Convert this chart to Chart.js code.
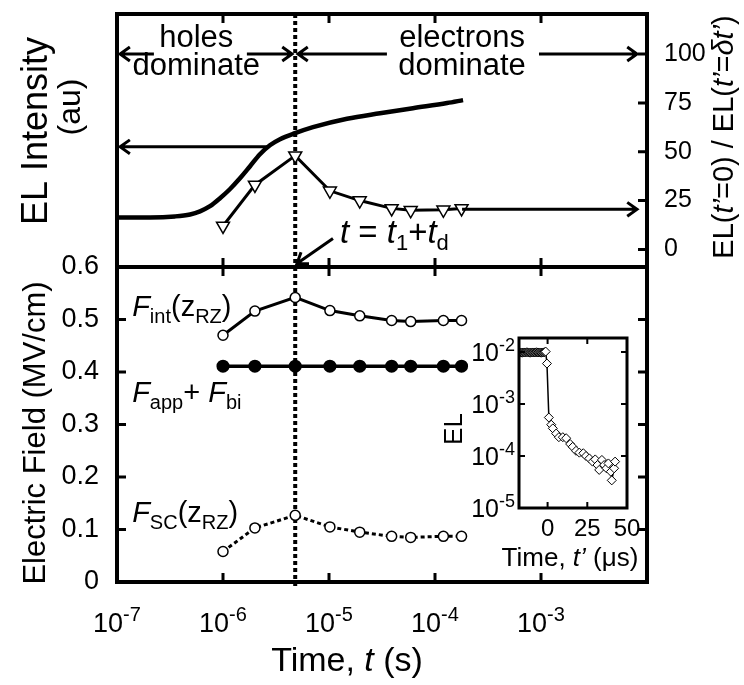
<!DOCTYPE html>
<html>
<head>
<meta charset="utf-8">
<script src="https://cdn.jsdelivr.net/npm/chart.js@4.4.1/dist/chart.umd.min.js"></script>
<style>
  html, body { margin: 0; padding: 0; background: #fff; }
  #wrap { position: relative; width: 744px; height: 685px; }
  #wrap canvas { position: absolute; left: 0; top: 0; }
  #wrap #inset { left: 440px; top: 330px; }
</style>
</head>
<body>
<div id="wrap">
  <canvas id="top" width="744" height="685"></canvas>
  <canvas id="bottom" width="744" height="685"></canvas>
  <canvas id="inset" width="208" height="245"></canvas>
</div>
<script>
// sampling times (s) of the triangle / field series
const times = [1e-6, 2e-6, 4.8e-6, 1.02e-5, 1.95e-5, 3.9e-5, 5.9e-5, 1.2e-4, 1.78e-4];
const elRatio = [12, 33, 48, 30, 25, 21, 20, 20.3, 21];
const fInt = [0.470, 0.516, 0.542, 0.517, 0.507, 0.498, 0.496, 0.498, 0.498];
const fAppBi = [0.411, 0.411, 0.411, 0.411, 0.411, 0.411, 0.411, 0.411, 0.411];
const fSc = [0.058, 0.103, 0.127, 0.105, 0.095, 0.087, 0.085, 0.087, 0.087];

// transient EL trace (au)
const elTimes = [1e-7, 2.05e-7, 3.52e-7, 4.89e-7, 6.07e-7, 7.54e-7, 9.37e-7, 1.16e-6, 1.445e-6,
  1.8e-6, 2.23e-6, 2.77e-6, 3.45e-6, 4.78e-6, 7.06e-6, 1.48e-5, 3.03e-5, 6.19e-5, 1.3e-4, 1.84e-4];
const elCurve = [16.4, 16.4, 16.9, 17.9, 19.5, 22.1, 26.2, 30.8, 36.4,
  42.6, 48.7, 53.3, 56.4, 59.5, 62.6, 66.9, 69.7, 72.3, 74.9, 76.4];

// inset: EL after the bias step, t' in us
const insetT = [-18, -17, -16, -15, -14, -13, -12, -11, -10, -9, -8, -7, -6, -5, -4, -3, -2,
  -1.2, -0.4, 0.8, 2.3, 3.3, 5.4, 7.1, 9.6, 11.7, 14.2, 15.8, 17.9, 20, 22.5, 24.2, 26.3,
  28.3, 30, 31.4, 32.5, 34.2, 35.6, 37.1, 38.3, 39.8, 40.4, 41.9, 42.5];
const insetEL = [0.0098, 0.0098, 0.0097, 0.0098, 0.0098, 0.0099, 0.0098, 0.0097, 0.0098, 0.0098,
  0.0098, 0.0099, 0.0098, 0.0098, 0.0097, 0.0098, 0.0099,
  0.0102, 0.0060, 5.5e-4, 4.0e-4, 3.4e-4, 2.7e-4, 2.3e-4, 2.3e-4, 2.2e-4, 1.7e-4, 1.5e-4,
  1.26e-4, 1.16e-4, 1.13e-4, 1.0e-4, 9.0e-5, 7.8e-5, 8.6e-5, 6.7e-5, 5.4e-5, 8.4e-5, 6.7e-5,
  5.8e-5, 7.2e-5, 5.0e-5, 3.4e-5, 5.8e-5, 7.8e-5];

const decadeTicks = [1e-6, 1e-5, 1e-4, 1e-3];
const xLabelExps = [-7, -6, -5, -4, -3];
const fieldTicks = [0.1, 0.2, 0.3, 0.4, 0.5];
const ratioTicks = [0, 25, 50, 75, 100];
const insetXTicks = [0, 25, 50];
const insetYExps = [-2, -3, -4, -5];
const tSwitch = 4.8e-6;

const FONT = '"Liberation Sans", Arial, sans-serif';
const font = (size, it) => (it ? 'italic ' : '') + size + 'px ' + FONT;

// parts: [text, size, italic, baseline shift]
function richWidth(ctx, parts) {
  let w = 0;
  for (const p of parts) { ctx.font = font(p[1], p[2]); w += ctx.measureText(p[0]).width; }
  return w;
}
function drawRich(ctx, parts, x, y, align) {
  const w = richWidth(ctx, parts);
  let cx = align === 'center' ? x - w / 2 : align === 'right' ? x - w : x;
  ctx.textAlign = 'left';
  ctx.textBaseline = 'alphabetic';
  for (const p of parts) {
    ctx.font = font(p[1], p[2]);
    ctx.fillText(p[0], cx, y + (p[3] || 0));
    cx += ctx.measureText(p[0]).width;
  }
}
function drawRotated(ctx, parts, x, y) {
  ctx.save();
  ctx.translate(x, y);
  ctx.rotate(-Math.PI / 2);
  drawRich(ctx, parts, 0, 0, 'center');
  ctx.restore();
}
function arrow(ctx, x1, y1, x2, y2) {
  const a = Math.atan2(y2 - y1, x2 - x1), L = 12, s = 0.62;
  ctx.beginPath();
  ctx.moveTo(x1, y1);
  ctx.lineTo(x2, y2);
  ctx.moveTo(x2 - L * Math.cos(a - s), y2 - L * Math.sin(a - s));
  ctx.lineTo(x2, y2);
  ctx.lineTo(x2 - L * Math.cos(a + s), y2 - L * Math.sin(a + s));
  ctx.stroke();
}
function dottedLine(chart, extra) {
  const { ctx, chartArea: a, scales } = chart;
  const px = scales.x.getPixelForValue(tSwitch);
  ctx.save();
  ctx.strokeStyle = '#000';
  ctx.lineWidth = 4;
  ctx.setLineDash([4, 3]);
  ctx.beginPath();
  ctx.moveTo(px, a.top);
  ctx.lineTo(px, a.bottom + extra);
  ctx.stroke();
  ctx.restore();
}

// arrows of the upper panel, in (time, ratio-axis) units
const topArrows = [
  [2.23e-7, 100, 1.07e-7, 100],
  [1.68e-6, 100, 4.48e-6, 100],
  [3.52e-5, 100, 5.1e-6, 100],
  [9.57e-4, 100, 8.05e-3, 100],
  [2.6e-6, 52.5, 1.07e-7, 52.5],
  [1.8e-4, 20.5, 8.05e-3, 20.5],
  [1.09e-5, 5.6, 4.99e-6, -7.2]
];

const topDecor = {
  id: 'topDecor',
  beforeDatasetsDraw(chart) { dottedLine(chart, 0); },
  afterDraw(chart) {
    const { ctx, chartArea: a, scales } = chart;
    const x = scales.x, yR = scales.yR;
    ctx.save();
    ctx.strokeStyle = ctx.fillStyle = '#000';
    ctx.lineWidth = 4;
    ctx.strokeRect(a.left, a.top, a.right - a.left, a.bottom - a.top);
    ctx.lineWidth = 3;
    ctx.beginPath();
    for (const v of decadeTicks) {
      const px = x.getPixelForValue(v);
      ctx.moveTo(px, a.top); ctx.lineTo(px, a.top + 9);
      ctx.moveTo(px, a.bottom); ctx.lineTo(px, a.bottom - 9);
    }
    for (const v of ratioTicks) {
      const py = yR.getPixelForValue(v);
      ctx.moveTo(a.right, py); ctx.lineTo(a.right - 9, py);
    }
    ctx.stroke();

    for (const r of topArrows) {
      arrow(ctx, x.getPixelForValue(r[0]), yR.getPixelForValue(r[1]),
        x.getPixelForValue(r[2]), yR.getPixelForValue(r[3]));
    }

    const hx = x.getPixelForValue(5.6e-7), ex = x.getPixelForValue(1.8e-4);
    drawRich(ctx, [['holes', 31]], hx, yR.getPixelForValue(103.6), 'center');
    drawRich(ctx, [['dominate', 31]], hx, yR.getPixelForValue(89.2), 'center');
    drawRich(ctx, [['electrons', 31]], ex, yR.getPixelForValue(103.6), 'center');
    drawRich(ctx, [['dominate', 31]], ex, yR.getPixelForValue(89.2), 'center');

    drawRich(ctx, [['t', 33, true], [' = ', 33], ['t', 33, true], ['1', 22, false, 7],
      ['+', 33], ['t', 33, true], ['d', 22, false, 7]],
      x.getPixelForValue(1.27e-5), yR.getPixelForValue(3.1), 'left');

    // axis titles
    drawRotated(ctx, [['EL Intensity', 36]], 47, 131);
    drawRotated(ctx, [['(au)', 32]], 80, 107);
    drawRotated(ctx, [['EL(', 29], ['t’', 29, true], ['=0) / EL(', 29], ['t’', 29, true],
      ['=', 29], ['δt’', 29, true], [')', 29]], 733, 137);
    ctx.restore();
  }
};

const bottomDecor = {
  id: 'bottomDecor',
  beforeDatasetsDraw(chart) { dottedLine(chart, 5); },
  afterDraw(chart) {
    const { ctx, chartArea: a, scales } = chart;
    const x = scales.x, y = scales.y;
    ctx.save();
    ctx.strokeStyle = ctx.fillStyle = '#000';
    ctx.lineWidth = 4;
    ctx.strokeRect(a.left, a.top, a.right - a.left, a.bottom - a.top);
    ctx.lineWidth = 3;
    ctx.beginPath();
    for (const v of decadeTicks) {
      const px = x.getPixelForValue(v);
      ctx.moveTo(px, a.top); ctx.lineTo(px, a.top + 9);
      ctx.moveTo(px, a.bottom); ctx.lineTo(px, a.bottom - 9);
    }
    for (const v of fieldTicks) {
      const py = y.getPixelForValue(v);
      ctx.moveTo(a.left, py); ctx.lineTo(a.left + 9, py);
      ctx.moveTo(a.right, py); ctx.lineTo(a.right - 9, py);
    }
    ctx.stroke();

    // decade labels under the time axis
    for (const e of xLabelExps) {
      drawRich(ctx, [['10', 27], [String(e), 20, false, -11]],
        x.getPixelForValue(Math.pow(10, e)), 632, 'center');
    }
    drawRich(ctx, [['Time, ', 34], ['t', 34, true], [' (s)', 34]], 347, 671, 'center');
    drawRotated(ctx, [['Electric Field (MV/cm)', 31]], 45, 433);

    const lx = x.getPixelForValue(1.39e-7);
    drawRich(ctx, [['F', 29, true], ['int', 20, false, 7], ['(z', 29], ['RZ', 20, false, 7], [')', 29]],
      lx, y.getPixelForValue(0.507), 'left');
    drawRich(ctx, [['F', 29, true], ['app', 20, false, 7], ['+ ', 29], ['F', 29, true], ['bi', 20, false, 7]],
      lx, y.getPixelForValue(0.343), 'left');
    drawRich(ctx, [['F', 29, true], ['SC', 20, false, 7], ['(z', 29], ['RZ', 20, false, 7], [')', 29]],
      lx, y.getPixelForValue(0.114), 'left');
    ctx.restore();
  }
};

const insetDecor = {
  id: 'insetDecor',
  afterDraw(chart) {
    const { ctx, chartArea: a, scales } = chart;
    const x = scales.x, y = scales.y;
    ctx.save();
    ctx.strokeStyle = ctx.fillStyle = '#000';
    ctx.lineWidth = 3;
    ctx.strokeRect(a.left, a.top, a.right - a.left, a.bottom - a.top);
    ctx.lineWidth = 2;
    ctx.beginPath();
    for (const v of [0, 25]) {
      const px = x.getPixelForValue(v);
      ctx.moveTo(px, a.top); ctx.lineTo(px, a.top + 6);
      ctx.moveTo(px, a.bottom); ctx.lineTo(px, a.bottom - 6);
    }
    for (const e of [-2, -3, -4]) {
      const py = y.getPixelForValue(Math.pow(10, e));
      ctx.moveTo(a.left, py); ctx.lineTo(a.left + 6, py);
      ctx.moveTo(a.right, py); ctx.lineTo(a.right - 6, py);
    }
    ctx.stroke();
    for (const e of insetYExps) {
      drawRich(ctx, [['10', 25], [String(e), 18, false, -10]],
        a.left - 4, y.getPixelForValue(Math.pow(10, e)) + 9, 'right');
    }
    drawRotated(ctx, [['EL', 26]], 22, 99);
    drawRich(ctx, [['Time, ', 26], ['t’', 26, true], [' (μs)', 26]], 130, 236, 'center');
    ctx.restore();
  }
};

const base = {
  responsive: false,
  animation: false,
  devicePixelRatio: 1,
  plugins: { legend: { display: false }, tooltip: { enabled: false } }
};
const fixWidth = w => s => { s.width = w; s.paddingTop = 0; s.paddingBottom = 0; };
const pts = (xs, ys) => xs.map((t, i) => ({ x: t, y: ys[i] }));

new Chart(document.getElementById('top'), {
  type: 'line',
  data: {
    datasets: [
      {
        label: 'EL intensity', data: pts(elTimes, elCurve), yAxisID: 'yEL',
        borderColor: '#000', borderWidth: 4.5, pointRadius: 0,
        cubicInterpolationMode: 'monotone', order: 2
      },
      {
        label: 'EL ratio', data: pts(times, elRatio), yAxisID: 'yR',
        borderColor: '#000', borderWidth: 3, pointStyle: 'triangle', rotation: 180,
        pointRadius: 7.5, pointBackgroundColor: '#fff', pointBorderColor: '#000',
        pointBorderWidth: 1.5, order: 1
      }
    ]
  },
  options: {
    ...base,
    layout: { padding: { left: 117, right: 0, top: 14, bottom: 418 } },
    scales: {
      x: { type: 'logarithmic', min: 1e-7, max: 1e-2, display: false },
      yEL: { type: 'linear', position: 'left', min: -9, max: 120.5, display: false },
      yR: {
        type: 'linear', position: 'right', min: -9, max: 120.5,
        grid: { display: false }, border: { display: false },
        afterBuildTicks: s => { s.ticks = ratioTicks.map(v => ({ value: v })); },
        afterFit: fixWidth(97),
        ticks: { padding: 9, color: '#000', font: { family: FONT, size: 25 } }
      }
    }
  },
  plugins: [topDecor]
});

new Chart(document.getElementById('bottom'), {
  type: 'line',
  data: {
    datasets: [
      {
        label: 'Fint', data: pts(times, fInt), borderColor: '#000', borderWidth: 3,
        pointRadius: 5, pointBackgroundColor: '#fff', pointBorderColor: '#000', pointBorderWidth: 1.5
      },
      {
        label: 'Fapp+Fbi', data: pts(times, fAppBi), borderColor: '#000', borderWidth: 3.5,
        pointRadius: 4.8, pointBackgroundColor: '#000', pointBorderColor: '#000'
      },
      {
        label: 'Fsc', data: pts(times, fSc), borderColor: '#000', borderWidth: 3, borderDash: [4, 3],
        pointRadius: 5, pointBackgroundColor: '#fff', pointBorderColor: '#000', pointBorderWidth: 1.5
      }
    ]
  },
  options: {
    ...base,
    layout: { padding: { left: 0, right: 97, top: 267, bottom: 103 } },
    scales: {
      x: { type: 'logarithmic', min: 1e-7, max: 1e-2, display: false },
      y: {
        type: 'linear', position: 'left', min: 0, max: 0.6,
        grid: { display: false }, border: { display: false },
        afterFit: fixWidth(117),
        ticks: { stepSize: 0.1, padding: 10, color: '#000', font: { family: FONT, size: 27 } }
      }
    }
  },
  plugins: [bottomDecor]
});

new Chart(document.getElementById('inset'), {
  type: 'line',
  data: {
    datasets: [{
      label: 'EL', data: pts(insetT, insetEL), borderColor: '#000', borderWidth: 1.5,
      pointStyle: 'rectRot', pointRadius: 4.5, pointBorderWidth: 1, pointBorderColor: '#000',
      pointBackgroundColor: c => (c.raw && c.raw.x < -1.5 ? '#7a7a7a' : '#fff')
    }]
  },
  options: {
    ...base,
    layout: { padding: { left: 79, right: 21, top: 8, bottom: 0 } },
    scales: {
      x: {
        type: 'linear', min: -18, max: 50,
        grid: { display: false }, border: { display: false },
        afterBuildTicks: s => { s.ticks = insetXTicks.map(v => ({ value: v })); },
        afterFit: s => { s.height = 67; s.paddingLeft = 0; s.paddingRight = 0; },
        ticks: { padding: -1, color: '#000', font: { family: FONT, size: 24 } }
      },
      y: { type: 'logarithmic', min: 1e-5, max: 0.0186, display: false }
    }
  },
  plugins: [insetDecor]
});
</script>
</body>
</html>
